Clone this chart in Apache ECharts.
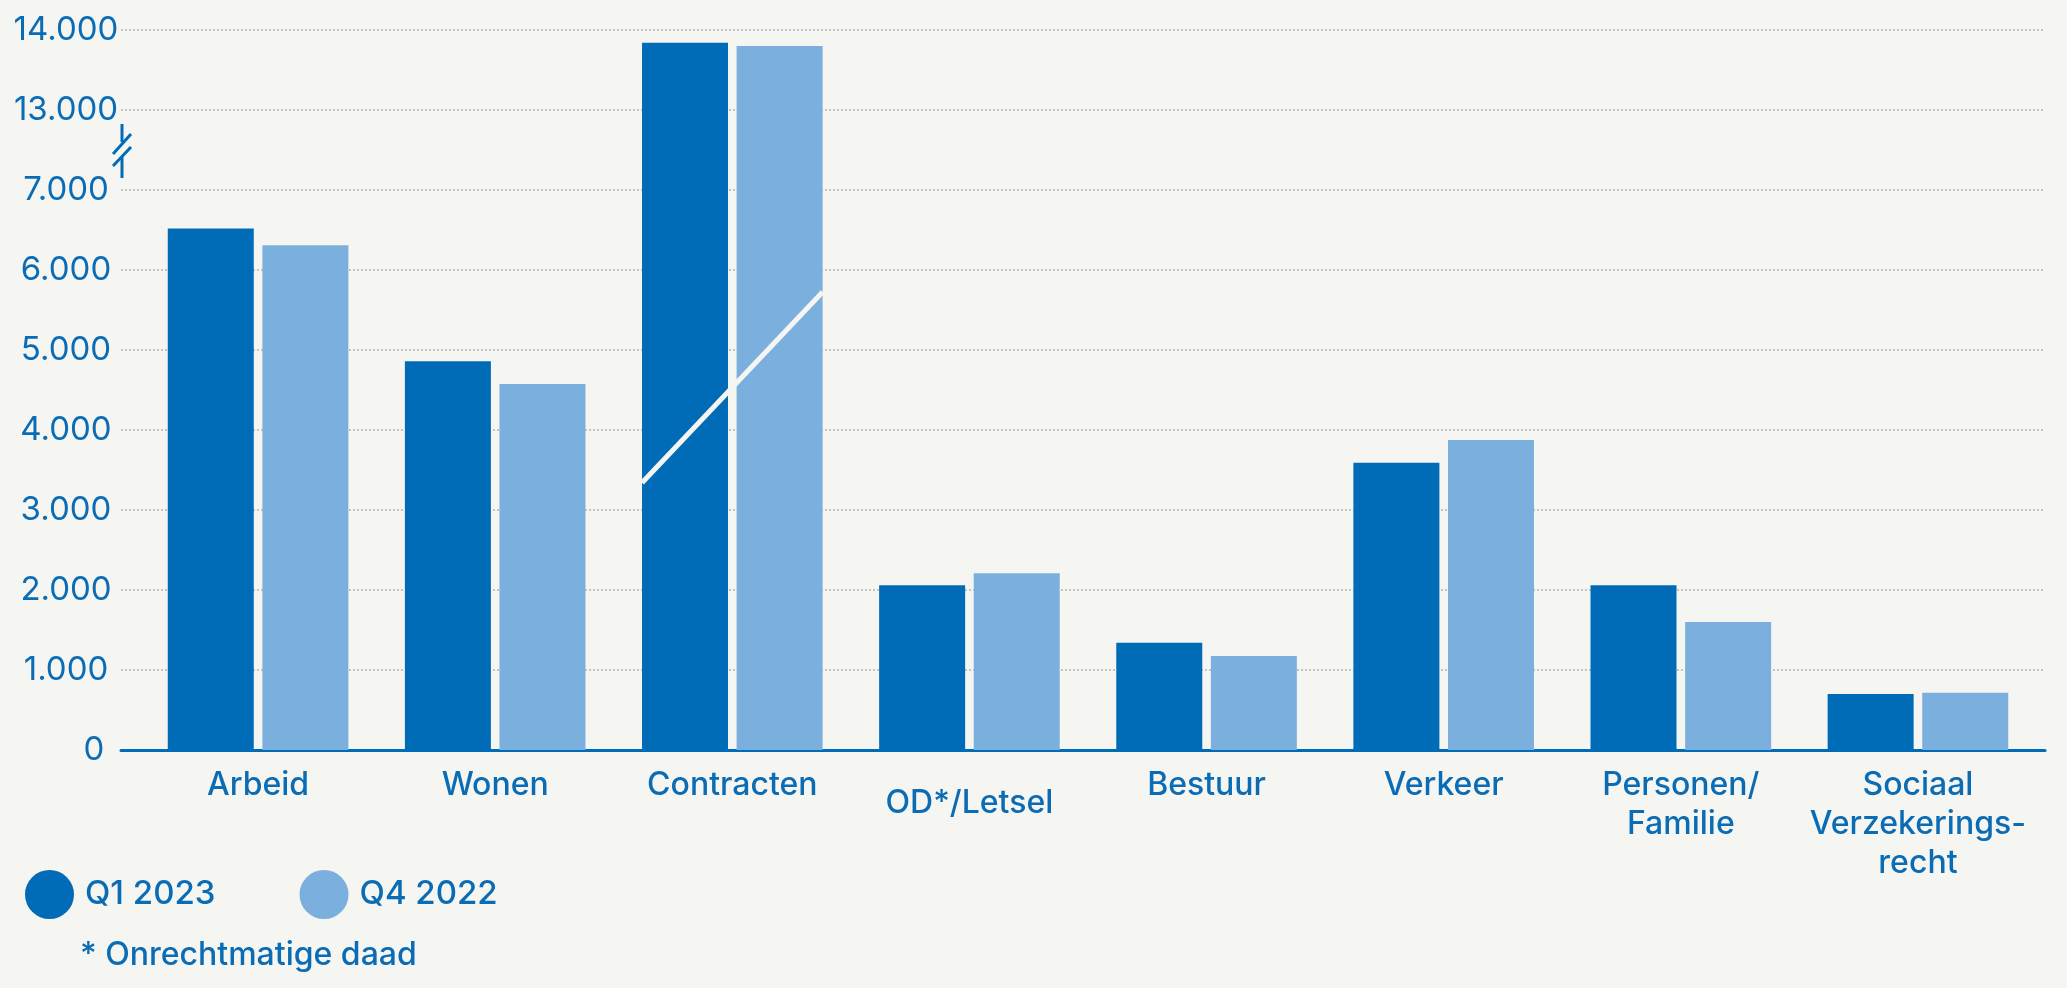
<!DOCTYPE html>
<html>
<head>
<meta charset="utf-8">
<script src="https://cdn.jsdelivr.net/npm/echarts@6/dist/echarts.min.js"></script>
<style>
  html, body { margin: 0; padding: 0; background: #f5f5f1; }
  #main { width: 2067px; height: 988px; }
</style>
</head>
<body>
<div id="main"></div>
<script>
// data
const categories = ['Arbeid', 'Wonen', 'Contracten', 'OD*/Letsel', 'Bestuur', 'Verkeer', 'Personen/\nFamilie', 'Sociaal\nVerzekerings-\nrecht'];
const q1_2023 = [6520, 4860, 13840, 2060, 1340, 3590, 2060, 700];
const q4_2022 = [6310, 4575, 13800, 2210, 1175, 3875, 1600, 715];
const seriesNames = ['Q1 2023', 'Q4 2022'];
const tickLabels = ['0', '1.000', '2.000', '3.000', '4.000', '5.000', '6.000', '7.000', '13.000', '14.000'];

// axis is cut between 7.000 and 13.000 (13.000 sits one step above 7.000)
const breakLow = 7000;
const cut = 5000;
function toAxis(v) { return v > breakLow ? v - cut : v; }

const blue = '#006cb7';
const lightBlue = '#7bb0de';
const textBlue = '#0a6cb5';
const bg = '#f5f5f1';
const font = 'Inter';

let myChart = echarts.init(document.getElementById('main'));

let option = {
  backgroundColor: bg,
  animation: false,
  grid: [
    { left: 121, right: 22, top: 30, bottom: 238 },
    { left: 139.5, right: 30.5, top: 30, bottom: 238 }
  ],
  legend: {
    left: 20,
    top: 865,
    icon: 'circle',
    itemWidth: 49,
    itemHeight: 49,
    itemGap: 84,
    data: seriesNames,
    textStyle: { color: textBlue, fontSize: 33, fontFamily: font, fontWeight: 500, padding: [18, 0, 0, 6] }
  },
  xAxis: [
    {
      type: 'category', gridIndex: 0, data: categories,
      axisLine: { lineStyle: { color: blue, width: 3 } },
      axisTick: { show: false },
      axisLabel: { show: false }
    },
    {
      type: 'category', gridIndex: 1,
      data: categories.map(c => c === 'OD*/Letsel' ? { value: c, textStyle: { padding: [18, 0, 0, 0] } } : c),
      axisLine: { show: false },
      axisTick: { show: false },
      axisLabel: {
        interval: 0, margin: 16, color: textBlue, fontSize: 32, fontFamily: font, fontWeight: 500, lineHeight: 39
      }
    }
  ],
  yAxis: [
    {
      type: 'value', gridIndex: 0, min: 0, max: 9000, interval: 1000,
      axisLine: { show: false },
      axisTick: { show: false },
      splitLine: { lineStyle: { color: '#b5b5b0', type: [2, 2], width: 1.5 } },
      axisLabel: {
        margin: 55, align: 'center', color: textBlue, fontSize: 33, fontFamily: font, fontWeight: 400,
        formatter: (val) => {
          let t = tickLabels[Math.round(val / 1000)];
          return t === '0' ? '{z|0}' : t;
        },
        rich: { z: { fontSize: 33, fontFamily: font, color: textBlue, padding: [0, 0, 0, 56] } }
      }
    },
    { type: 'value', gridIndex: 1, min: 0, max: 9000, interval: 1000, show: false, splitLine: { show: false } }
  ],
  series: [
    {
      name: seriesNames[0], type: 'bar', xAxisIndex: 1, yAxisIndex: 1,
      barWidth: 86, barGap: '10%',
      itemStyle: { color: blue },
      data: q1_2023.map(toAxis)
    },
    {
      name: seriesNames[1], type: 'bar', xAxisIndex: 1, yAxisIndex: 1,
      barWidth: 86, barGap: '10%',
      itemStyle: { color: lightBlue },
      data: q4_2022.map(toAxis)
    }
  ]
};

myChart.setOption(option);

// break marks: slash on the Contracten bars and on the y axis
let idx = categories.indexOf('Contracten');
let pLow = myChart.convertToPixel({ xAxisIndex: 1, yAxisIndex: 1 }, [idx, 3340]);
let pHigh = myChart.convertToPixel({ xAxisIndex: 1, yAxisIndex: 1 }, [idx, 5725]);
let half = 86 + 4.3;
let ax = myChart.convertToPixel({ xAxisIndex: 0, yAxisIndex: 0 }, [0, 7500]);
let axX = 122, mid = ax[1];

myChart.setOption({
  graphic: [
    {
      type: 'line', z: 100,
      shape: { x1: pLow[0] - half, y1: pLow[1], x2: pHigh[0] + half, y2: pHigh[1] },
      style: { stroke: bg, lineWidth: 5 }
    },
    { type: 'line', z: 100, shape: { x1: axX, y1: mid - 26, x2: axX, y2: mid - 8 }, style: { stroke: blue, lineWidth: 3 } },
    { type: 'line', z: 100, shape: { x1: axX, y1: mid + 7, x2: axX, y2: mid + 28 }, style: { stroke: blue, lineWidth: 3 } },
    { type: 'line', z: 100, shape: { x1: axX - 9, y1: mid + 4, x2: axX + 9, y2: mid - 16 }, style: { stroke: blue, lineWidth: 3 } },
    { type: 'line', z: 100, shape: { x1: axX - 9, y1: mid + 16, x2: axX + 9, y2: mid - 3 }, style: { stroke: blue, lineWidth: 3 } },
    {
      type: 'text', left: 80, top: 939,
      style: { text: '* Onrechtmatige daad', fill: textBlue, font: '500 32px Inter' }
    }
  ]
});
</script>
</body>
</html>
